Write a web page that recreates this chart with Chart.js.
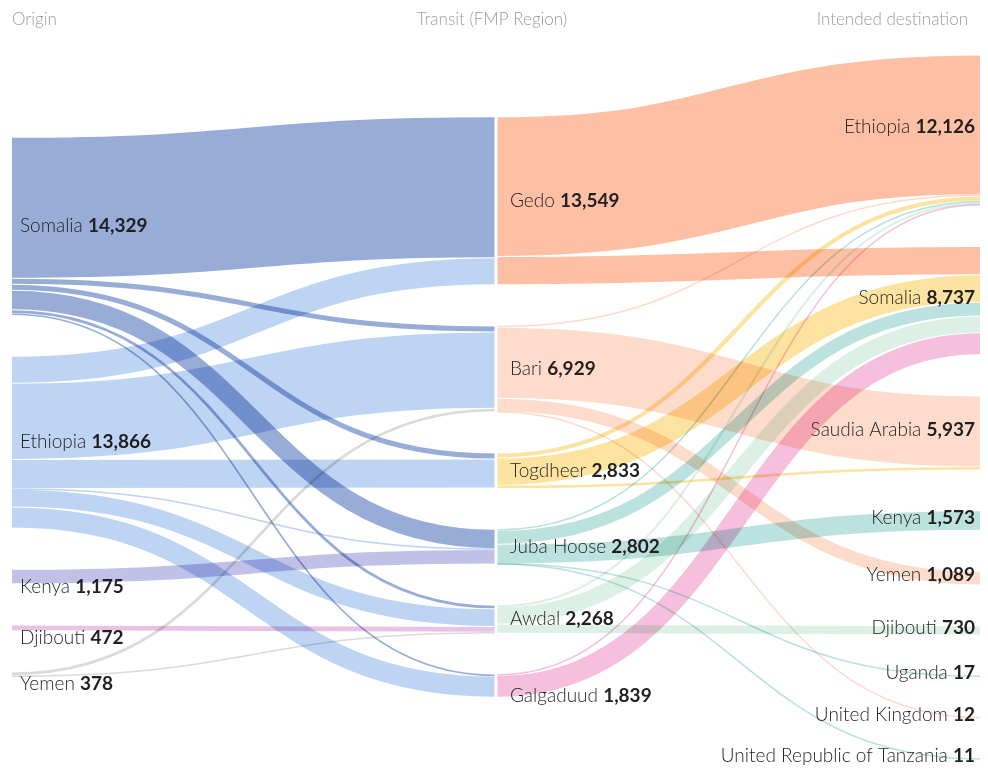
<!DOCTYPE html>
<html>
<head>
<meta charset="utf-8">
<script src="https://cdn.jsdelivr.net/npm/chart.js@4.4.1/dist/chart.umd.min.js"></script>
<style>
body { margin: 0; background: #fff; }
#chart { display: block; }
</style>
</head>
<body>
<canvas id="chart" width="988" height="772"></canvas>
<script>
const columnTitles = ['Origin', 'Transit (FMP Region)', 'Intended destination'];

const originNames = ['Somalia', 'Ethiopia', 'Kenya', 'Djibouti', 'Yemen'];
const originTotals = [14329, 13866, 1175, 472, 378];

const transitNames = ['Gedo', 'Bari', 'Togdheer', 'Juba Hoose', 'Awdal', 'Galgaduud'];
const transitTotals = [13549, 6929, 2833, 2802, 2268, 1839];

const destNames = ['Ethiopia', 'Somalia', 'Saudia Arabia', 'Kenya', 'Yemen', 'Djibouti', 'Uganda', 'United Kingdom', 'United Republic of Tanzania'];
const destTotals = [12126, 8737, 5937, 1573, 1089, 730, 17, 12, 11];

// rows = origin, cols = transit
const originToTransit = [
    [11372, 480, 480, 1567, 300, 130],
    [2177, 6149, 2353, 60, 1418, 1709],
    [0, 0, 0, 1175, 0, 0],
    [0, 0, 0, 0, 472, 0],
    [0, 300, 0, 0, 78, 0]
];

// rows = transit, cols = destination
const transitToDest = [
    [11262, 2287, 0, 0, 0, 0, 0, 0, 0],
    [100, 0, 5728, 0, 1089, 0, 0, 12, 0],
    [412, 2212, 209, 0, 0, 0, 0, 0, 0],
    [100, 1101, 0, 1573, 0, 0, 17, 0, 11],
    [173, 1365, 0, 0, 0, 730, 0, 0, 0],
    [79, 1760, 0, 0, 0, 0, 0, 0, 0]
];

const originColors = ['#97acd6', '#bed4f3', '#c1c0e6', '#e8c3e6', '#dadada'];
const transitColors = ['#fdc0a5', '#fedccc', '#fde3a0', '#bbe2de', '#dcf0e5', '#f5bfdd'];

const columns = [
    { names: originNames, totals: originTotals },
    { names: transitNames, totals: transitTotals },
    { names: destNames, totals: destTotals }
];
const flows = [originToTransit, transitToDest];
const flowColors = [originColors, transitColors];

const NODE_PAD = 3318;
const sum = arr => arr.reduce((a, b) => a + b, 0);
const colHeight = col => sum(col.totals) + (col.totals.length - 1) * NODE_PAD;
const yMax = Math.max(...columns.map(colHeight));

function layoutNodes() {
    return columns.map(col => {
        let y = (yMax - colHeight(col)) / 2;
        return col.totals.map(v => {
            const n = { y0: y, y1: y + v };
            y += v + NODE_PAD;
            return n;
        });
    });
}

function layoutLinks(nodes) {
    let links = [];
    flows.forEach((m, l) => {
        const outCursor = nodes[l].map(n => n.y0);
        const inCursor = nodes[l + 1].map(n => n.y0);
        m.forEach((row, i) => {
            row.forEach((v, j) => {
                if (!v) return;
                links.push({ level: l, color: flowColors[l][i], s0: outCursor[i], t0: null, v: v, i: i, j: j });
                outCursor[i] += v;
            });
        });
        // incoming stacked by source order
        for (let j = 0; j < nodes[l + 1].length; j++) {
            links.filter(k => k.level === l && k.j === j).sort((a, b) => a.i - b.i).forEach(k => {
                k.t0 = inCursor[j];
                inCursor[j] += k.v;
            });
        }
    });
    return links;
}

const sankeyPlugin = {
    id: 'sankey',
    beforeDraw(chart) {
        const ctx = chart.ctx;
        ctx.save();
        ctx.fillStyle = '#fff';
        ctx.fillRect(0, 0, chart.width, chart.height);
        ctx.restore();
    },
    afterDatasetsDraw(chart) {
        const ctx = chart.ctx;
        const xs = chart.scales.x;
        const ys = chart.scales.y;
        const nodes = layoutNodes();
        const links = layoutLinks(nodes);

        ctx.save();
        ctx.globalCompositeOperation = 'multiply';
        ctx.lineCap = 'butt';
        links.forEach(k => {
            const xa = xs.getPixelForValue(k.level) + (k.level === 0 ? 0 : 1.5);
            const xb = xs.getPixelForValue(k.level + 1) - (k.level + 1 === 2 ? 0 : 1.5);
            const ya = (ys.getPixelForValue(k.s0) + ys.getPixelForValue(k.s0 + k.v)) / 2;
            const yb = (ys.getPixelForValue(k.t0) + ys.getPixelForValue(k.t0 + k.v)) / 2;
            let w = Math.abs(ys.getPixelForValue(k.v) - ys.getPixelForValue(0));
            if (w > 3) w -= 1;
            w = Math.max(w, 1.5);
            const xm = (xa + xb) / 2;
            ctx.beginPath();
            ctx.moveTo(xa, ya);
            ctx.bezierCurveTo(xm, ya, xm, yb, xb, yb);
            ctx.strokeStyle = k.color;
            ctx.lineWidth = w;
            ctx.stroke();
        });
        ctx.restore();

        // labels
        ctx.save();
        ctx.textBaseline = 'middle';
        ctx.fillStyle = '#231f20';
        const nameFont = '300 19px Lato';
        const valFont = 'bold 19px Lato';
        columns.forEach((col, c) => {
            const cx = xs.getPixelForValue(c);
            col.names.forEach((name, i) => {
                const n = nodes[c][i];
                const top = ys.getPixelForValue(n.y0);
                const bot = ys.getPixelForValue(n.y1);
                let y = (top + bot) / 2;
                if (c < 2 && bot - top < 25) y += 10;
                if (c === 2) y -= 3;
                const val = col.totals[i].toLocaleString('en-US');
                ctx.font = nameFont;
                const nw = ctx.measureText(name + ' ').width;
                ctx.font = valFont;
                const vw = ctx.measureText(val).width;
                let x;
                if (c === 0) x = cx + 8;
                else if (c === 1) x = cx + 14;
                else x = cx - 5 - nw - vw;
                ctx.textAlign = 'left';
                ctx.font = nameFont;
                ctx.fillText(name + ' ', x, y);
                ctx.font = valFont;
                ctx.fillText(val, x + nw, y);
            });
        });

        // column headers
        ctx.font = '300 17px Lato';
        ctx.fillStyle = '#9b9b9b';
        columnTitles.forEach((t, c) => {
            const cx = xs.getPixelForValue(c);
            ctx.textAlign = c === 0 ? 'left' : (c === 1 ? 'center' : 'right');
            ctx.fillText(t, c === 2 ? cx - 12 : (c === 1 ? cx - 4 : cx), 20);
        });
        ctx.restore();
    }
};

let chart = new Chart(document.querySelector('#chart'), {
    type: 'scatter',
    data: { datasets: [{ data: [] }] },
    options: {
        responsive: false,
        animation: false,
        layout: { padding: { left: 12, right: 8, top: 55, bottom: 13 } },
        plugins: { legend: { display: false }, tooltip: { enabled: false } },
        scales: {
            x: { type: 'linear', min: 0, max: 2, display: false },
            y: { type: 'linear', min: 0, max: yMax, reverse: true, display: false }
        }
    },
    plugins: [sankeyPlugin]
});
</script>
</body>
</html>
